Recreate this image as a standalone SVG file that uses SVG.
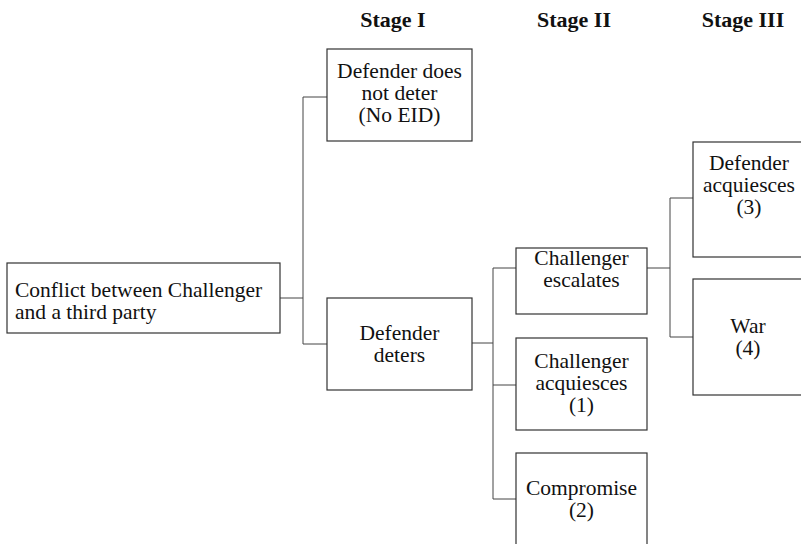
<svg xmlns="http://www.w3.org/2000/svg" width="801" height="544" viewBox="0 0 801 544">
<style>
.box{fill:#fff;stroke:#333;stroke-width:1.2}
.c{fill:none;stroke:#444;stroke-width:1}
text{font-family:"Liberation Serif","DejaVu Serif",serif;font-size:21.5px;fill:#111}
.m{text-anchor:middle}
.h{font-weight:bold;font-size:22px;text-anchor:middle}
</style>
<rect width="801" height="544" fill="#fff"/>
<g id="headers">
<text class="h" x="393" y="27">Stage I</text>
<text class="h" x="574" y="27">Stage II</text>
<text class="h" x="743" y="27">Stage III</text>
</g>
<g id="connectors">
<path class="c" d="M280,298 H303 M303,97 V344 M303,97 H327 M303,344 H327"/>
<path class="c" d="M472,343 H493 M493,268 V499 M493,268 H516 M493,385 H516 M493,499 H516"/>
<path class="c" d="M647,268 H670 M670,198 V337 M670,198 H693 M670,337 H693"/>
</g>
<g id="conflict">
<rect class="box" x="7" y="263" width="273" height="70"/>
<text x="15" y="297">Conflict between Challenger</text>
<text x="15" y="319">and a third party</text>
</g>
<g id="no-deter">
<rect class="box" x="327" y="49" width="145" height="92"/>
<text class="m" x="399.5" y="78">Defender does</text>
<text class="m" x="399.5" y="100">not deter</text>
<text class="m" x="399.5" y="122">(No EID)</text>
</g>
<g id="deters">
<rect class="box" x="327" y="298" width="145" height="92"/>
<text class="m" x="399.5" y="340">Defender</text>
<text class="m" x="399.5" y="362">deters</text>
</g>
<g id="escalates">
<rect class="box" x="516" y="248" width="131" height="66"/>
<text class="m" x="581.5" y="265">Challenger</text>
<text class="m" x="581.5" y="287">escalates</text>
</g>
<g id="ch-acq">
<rect class="box" x="516" y="338" width="131" height="92"/>
<text class="m" x="581.5" y="368">Challenger</text>
<text class="m" x="581.5" y="390">acquiesces</text>
<text class="m" x="581.5" y="412">(1)</text>
</g>
<g id="compromise">
<rect class="box" x="516" y="453" width="131" height="100"/>
<text class="m" x="581.5" y="495">Compromise</text>
<text class="m" x="581.5" y="517">(2)</text>
</g>
<g id="def-acq">
<rect class="box" x="693" y="142" width="120" height="115"/>
<text class="m" x="749" y="170">Defender</text>
<text class="m" x="749" y="192">acquiesces</text>
<text class="m" x="749" y="214">(3)</text>
</g>
<g id="war">
<rect class="box" x="693" y="279" width="120" height="116"/>
<text class="m" x="748" y="333">War</text>
<text class="m" x="748" y="355">(4)</text>
</g>
</svg>
